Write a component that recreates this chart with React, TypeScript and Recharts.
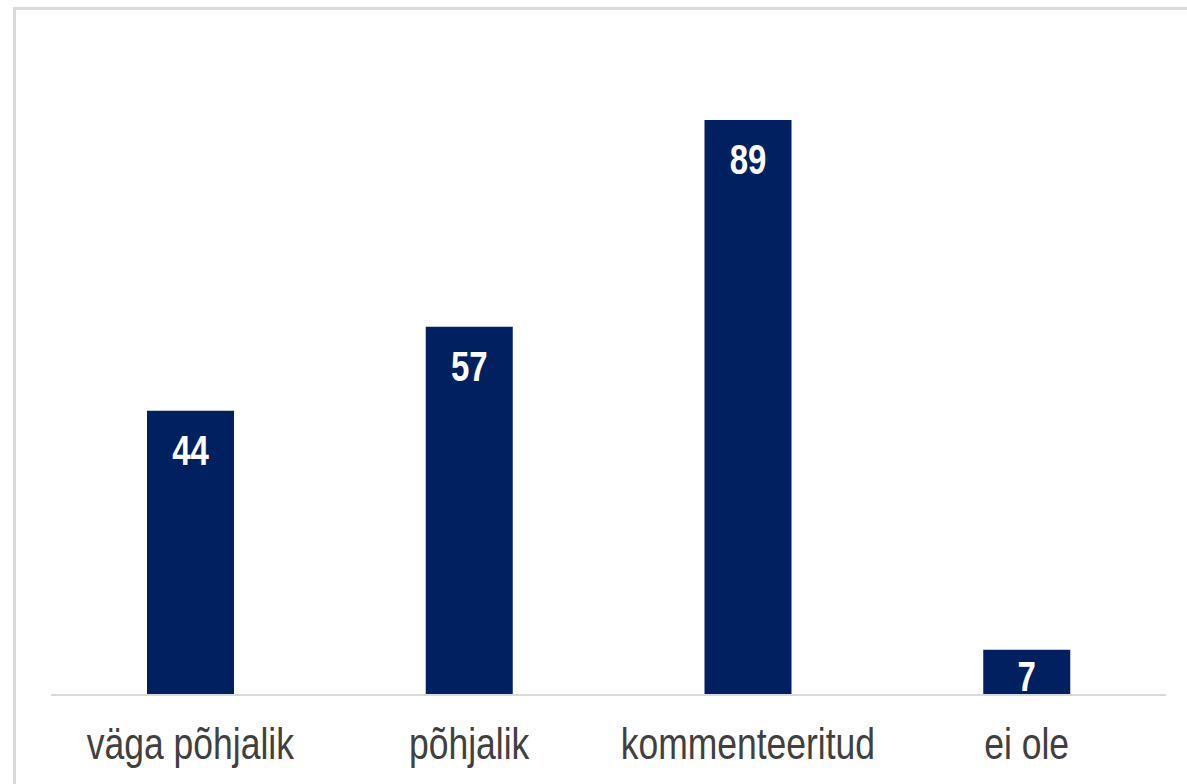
import { BarChart, Bar, XAxis, YAxis, LabelList } from 'recharts'

const categories = ['väga põhjalik', 'põhjalik', 'kommenteeritud', 'ei ole']
const counts = [44, 57, 89, 7]

const data = categories.map((name, i) => ({ name, value: counts[i] }))

// the picture is stretched a bit vertically, so text gets a y-scale
const STRETCH = 1.27

function CategoryTick(props: any) {
  const { x, y, payload } = props
  return (
    <g transform={`translate(${x},${y + 64}) scale(1,${STRETCH})`}>
      <text x={0} y={0} textAnchor="middle" fill="#404040" fontSize={35.5} fontFamily="'Liberation Sans', Arial, sans-serif">
        {payload.value}
      </text>
    </g>
  )
}

function ValueLabel(props: any) {
  const { x, y, width, height, value } = props
  // baseline sits ~54px under the top, but stays inside short bars
  const dy = Math.min(54, height - 4)
  return (
    <g transform={`translate(${x + width / 2},${y + dy}) scale(1,${STRETCH})`}>
      <text x={0} y={0} textAnchor="middle" fill="#ffffff" fontSize={33} fontWeight="bold" fontFamily="'Liberation Sans', Arial, sans-serif">
        {value}
      </text>
    </g>
  )
}

export default function App() {
  return (
    <div style={{ position: 'relative', width: 1187, height: 784, overflow: 'hidden', background: '#fff' }}>
      <style>{'body{margin:0}'}</style>
      <div
        style={{
          position: 'absolute',
          left: 13,
          top: 7,
          width: 1300,
          height: 900,
          borderTop: '3px solid #d9d9d9',
          borderLeft: '3px solid #d9d9d9',
        }}
      />
      <div style={{ position: 'absolute', left: 0, top: 0 }}>
        <BarChart width={1187} height={784} data={data} margin={{ top: 49, right: 21, left: 51, bottom: 59 }}>
          <XAxis
            dataKey="name"
            height={30}
            axisLine={{ stroke: '#d9d9d9', strokeWidth: 2 }}
            tickLine={false}
            tickSize={0}
            tickMargin={0}
            tick={<CategoryTick />}
            interval={0}
          />
          <YAxis hide domain={[0, 100]} />
          <Bar dataKey="value" fill="#002060" barSize={87} isAnimationActive={false}>
            <LabelList dataKey="value" content={<ValueLabel />} />
          </Bar>
        </BarChart>
      </div>
    </div>
  )
}
